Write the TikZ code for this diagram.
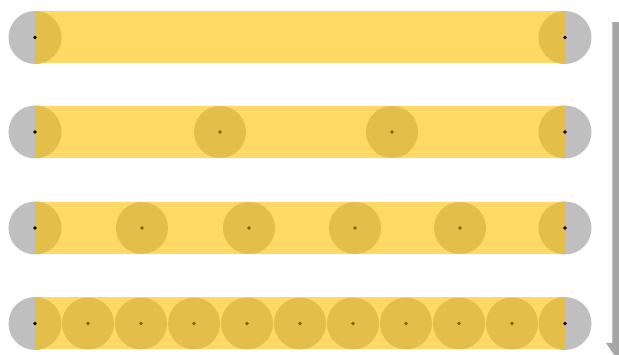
\documentclass[tikz,border=0pt]{standalone}
\definecolor{jaune}{HTML}{FFD966}
\definecolor{jaunefonce}{HTML}{E4BE4B}
\definecolor{gris}{HTML}{BFBFBF}
\definecolor{grisbarre}{HTML}{A6A6A6}
\definecolor{brun}{HTML}{7F6000}
\begin{document}
\begin{tikzpicture}[x=1pt,y=-1pt]
  \useasboundingbox (0,0) rectangle (619,355);
  \clip (0,0) rectangle (619,355);

  % Les barres
  \foreach \y/\liste in {37.5/{}, 132/{220,392}, 228/{142,249,355,460},
                         323.5/{88,141,194,247,300,353,406,459,512}} {
    \fill[gris] (35,\y) circle (26.5);
    \fill[gris] (565,\y) circle (26.5);
    \fill[jaune] (35,\y-26) rectangle (565,\y+26);
    \begin{scope}
      \clip (35,\y-26) rectangle (565,\y+26);
      \fill[jaunefonce] (35,\y) circle (26.5);
      \fill[jaunefonce] (565,\y) circle (26.5);
    \end{scope}
    % Les cercles
    \foreach \x in \liste {
      \fill[jaunefonce] (\x,\y) circle (26);
      \fill[brun] (\x,\y) circle (1.9);
    }
    % Les points
    \fill[black] (35,\y) circle (1.9);
    \fill[black] (565,\y) circle (1.9);
  }

  % La fleche
  \fill[grisbarre] (612,22) rectangle (626,343);
  \fill[grisbarre] (606,343) -- (632,343) -- (619,362) -- cycle;
  \draw[gris, line width=1pt] (612.5,22) -- (612.5,343);
\end{tikzpicture}
\end{document}
